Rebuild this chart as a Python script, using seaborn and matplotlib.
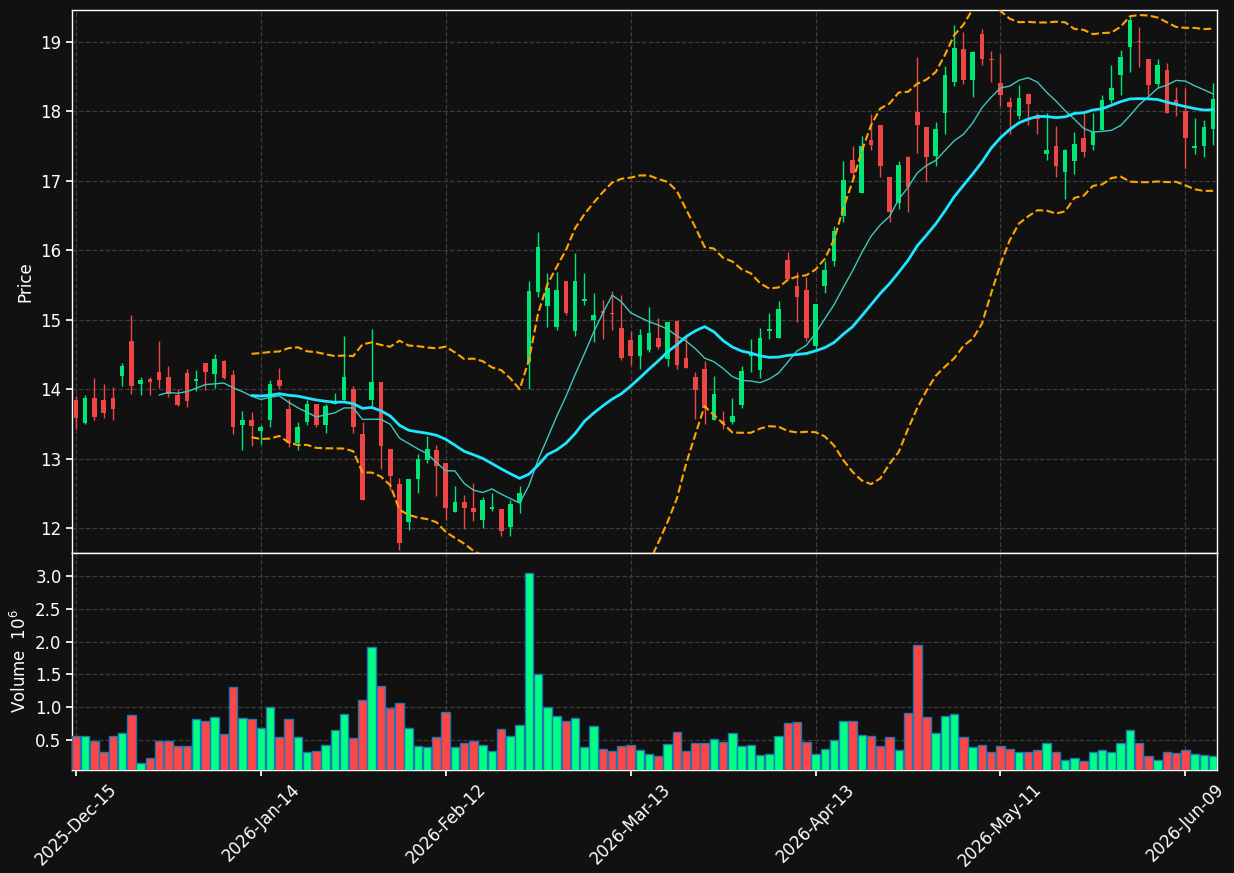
import numpy as np
import pandas as pd
import seaborn as sns
import matplotlib
matplotlib.use('Agg')
import matplotlib.pyplot as plt

# daily OHLC (price) and volume (millions)
opens = [13.84, 13.51, 13.87, 13.84, 13.87, 14.19, 14.70, 14.07, 14.14, 14.24,
         14.17, 13.92, 14.23, 14.12, 14.37, 14.22, 14.41, 14.20, 13.49, 13.55,
         13.40, 13.56, 14.13, 13.71, 13.23, 13.52, 13.78, 13.49, 13.78, 13.85,
         14.00, 13.36, 13.85, 14.10, 13.14, 12.63, 12.08, 12.70, 12.98, 13.12,
         12.93, 12.23, 12.37, 12.29, 12.12, 12.27, 12.27, 12.01, 12.37, 14.39,
         15.40, 15.19, 14.90, 15.56, 14.84, 15.27, 15.00, 15.12, 15.09, 14.88,
         14.71, 14.47, 14.57, 14.73, 14.44, 14.98, 14.45, 14.17, 14.29, 13.55,
         13.54, 13.52, 13.77, 14.48, 14.27, 14.83, 14.73, 15.86, 15.49, 15.43,
         14.62, 15.48, 15.85, 16.50, 17.30, 16.83, 17.59, 17.80, 17.05, 16.68,
         17.34, 17.99, 17.77, 17.36, 17.98, 18.43, 18.90, 18.45, 19.11, 18.75,
         18.41, 18.13, 17.94, 18.25, 17.93, 17.38, 17.50, 17.12, 17.29, 17.62,
         17.52, 17.73, 18.16, 18.52, 18.92, 19.02, 18.75, 18.40, 18.59, 18.17,
         18.01, 17.47, 17.50, 17.75]
highs = [13.90, 13.92, 14.16, 14.08, 14.03, 14.38, 15.07, 14.18, 14.18, 14.70,
         14.34, 14.00, 14.29, 14.28, 14.37, 14.51, 14.42, 14.28, 13.69, 13.67,
         13.48, 14.13, 14.31, 13.86, 13.52, 13.85, 13.78, 13.79, 13.94, 14.77,
         14.04, 13.52, 14.87, 14.10, 13.14, 12.72, 12.71, 13.07, 13.33, 13.20,
         12.93, 12.61, 12.47, 12.65, 12.44, 12.50, 12.27, 12.40, 12.61, 15.56,
         16.27, 15.67, 15.68, 15.56, 15.96, 15.67, 15.39, 15.29, 15.42, 15.36,
         14.84, 14.86, 15.18, 15.02, 14.97, 14.98, 14.76, 14.24, 14.41, 14.19,
         13.69, 13.87, 14.33, 14.72, 14.88, 15.09, 15.27, 15.97, 15.69, 15.62,
         15.23, 15.84, 16.35, 17.29, 17.50, 17.64, 17.96, 17.80, 17.05, 17.29,
         17.36, 18.78, 17.77, 17.84, 18.66, 19.25, 19.14, 18.87, 19.19, 18.87,
         18.83, 18.21, 18.38, 18.27, 17.98, 17.98, 17.79, 17.46, 17.70, 17.98,
         17.97, 18.24, 18.67, 18.88, 19.38, 19.22, 18.75, 18.75, 18.70, 18.35,
         18.34, 17.90, 17.87, 18.41]
lows = [13.42, 13.50, 13.56, 13.59, 13.56, 14.05, 13.93, 13.92, 13.92, 14.02,
        13.89, 13.75, 13.74, 13.98, 13.99, 14.02, 14.14, 13.36, 13.13, 13.18,
        13.21, 13.45, 14.00, 13.16, 13.13, 13.49, 13.45, 13.37, 13.78, 13.85,
        13.37, 12.41, 13.76, 12.85, 12.55, 11.69, 11.97, 12.50, 12.94, 12.46,
        12.12, 12.23, 11.99, 12.10, 12.00, 12.24, 11.89, 11.89, 12.22, 14.00,
        15.33, 14.89, 14.85, 15.07, 14.76, 15.21, 14.68, 14.72, 14.85, 14.42,
        14.35, 14.29, 14.54, 14.58, 14.33, 14.29, 14.31, 13.57, 13.50, 13.55,
        13.42, 13.50, 13.73, 14.25, 14.16, 14.72, 14.73, 15.58, 14.97, 14.69,
        14.58, 15.39, 15.77, 16.41, 17.06, 16.83, 17.45, 17.05, 16.41, 16.59,
        16.55, 17.40, 16.99, 17.21, 17.67, 18.36, 18.40, 18.21, 18.67, 18.43,
        18.08, 17.67, 17.89, 17.81, 17.68, 17.30, 17.06, 16.74, 17.10, 17.34,
        17.45, 17.73, 18.12, 18.24, 18.57, 18.64, 18.23, 18.35, 17.98, 17.93,
        17.18, 17.38, 17.35, 17.52]
closes = [13.58, 13.87, 13.60, 13.66, 13.71, 14.34, 14.04, 14.13, 14.10, 14.13,
          13.93, 13.77, 13.83, 14.14, 14.25, 14.44, 14.16, 13.45, 13.55, 13.47,
          13.45, 14.08, 14.05, 13.22, 13.45, 13.78, 13.49, 13.76, 13.83, 14.18,
          13.46, 12.41, 14.10, 13.18, 12.75, 11.78, 12.71, 12.99, 13.14, 12.90,
          12.29, 12.38, 12.29, 12.23, 12.40, 12.30, 11.96, 12.34, 12.50, 15.41,
          16.05, 15.45, 15.43, 15.10, 15.56, 15.30, 15.07, 15.09, 15.08, 14.45,
          14.47, 14.78, 14.81, 14.61, 14.97, 14.35, 14.31, 13.99, 13.73, 13.93,
          13.50, 13.61, 14.26, 14.52, 14.74, 14.87, 15.16, 15.58, 15.33, 14.74,
          15.23, 15.71, 16.28, 17.01, 17.11, 17.50, 17.52, 17.22, 16.55, 17.23,
          16.91, 17.81, 17.35, 17.74, 18.53, 18.91, 18.45, 18.86, 18.75, 18.74,
          18.24, 18.07, 18.19, 18.10, 17.89, 17.45, 17.21, 17.45, 17.53, 17.42,
          17.71, 18.17, 18.34, 18.79, 19.32, 19.00, 18.38, 18.67, 17.98, 18.10,
          17.61, 17.50, 17.77, 18.18]
volumes = [0.561, 0.561, 0.485, 0.317, 0.561, 0.607, 0.881, 0.150, 0.226, 0.485,
           0.485, 0.409, 0.409, 0.820, 0.790, 0.851, 0.591, 1.308, 0.835, 0.820,
           0.683, 1.003, 0.546, 0.820, 0.546, 0.317, 0.332, 0.424, 0.652, 0.896,
           0.530, 1.110, 1.918, 1.323, 0.988, 1.064, 0.683, 0.409, 0.393, 0.546,
           0.927, 0.393, 0.454, 0.485, 0.424, 0.332, 0.668, 0.561, 0.729, 3.046,
           1.506, 1.003, 0.866, 0.790, 0.835, 0.393, 0.713, 0.363, 0.332, 0.409,
           0.424, 0.348, 0.287, 0.256, 0.439, 0.622, 0.332, 0.454, 0.454, 0.515,
           0.470, 0.607, 0.409, 0.424, 0.271, 0.287, 0.561, 0.759, 0.774, 0.470,
           0.287, 0.363, 0.500, 0.790, 0.790, 0.576, 0.561, 0.409, 0.546, 0.348,
           0.912, 1.948, 0.851, 0.607, 0.866, 0.896, 0.546, 0.393, 0.424, 0.317,
           0.409, 0.363, 0.317, 0.317, 0.348, 0.454, 0.317, 0.195, 0.226, 0.180,
           0.317, 0.348, 0.317, 0.454, 0.652, 0.454, 0.256, 0.195, 0.317, 0.302,
           0.348, 0.287, 0.271, 0.256]
tick_labels = ['2025-Dec-15', '2026-Jan-14', '2026-Feb-12', '2026-Mar-13',
               '2026-Apr-13', '2026-May-11', '2026-Jun-09']

BG = '#111111'
UP, DOWN = '#00e676', '#f04545'
VUP, VDOWN = '#00ff85', '#ff4646'

df = pd.DataFrame({'open': opens, 'high': highs, 'low': lows,
                   'close': closes, 'volume': volumes})
df['i'] = np.arange(len(df))
df['ma10'] = df['close'].rolling(10).mean()
df['ma20'] = df['close'].rolling(20).mean()
sd = df['close'].rolling(20).std()
df['bb_up'] = df['ma20'] + 2 * sd
df['bb_lo'] = df['ma20'] - 2 * sd
up = df['close'] >= df['open']

sns.set_theme(style='dark', rc={
    'figure.facecolor': BG, 'axes.facecolor': BG, 'axes.edgecolor': 'white',
    'axes.labelcolor': 'white', 'xtick.color': 'white', 'ytick.color': 'white',
    'text.color': 'white', 'axes.grid': True, 'grid.color': '#3c3c3c',
    'grid.linestyle': '--', 'grid.linewidth': 0.9,
    'xtick.bottom': True, 'ytick.left': True,
})
plt.rcParams['font.family'] = ['DejaVu Sans']

fig = plt.figure(figsize=(12.34, 8.73), dpi=100)
W, H = 1234, 873
ax = fig.add_axes([72 / W, 1 - 553 / H, 1145 / W, 543 / H])
axv = fig.add_axes([72 / W, 1 - 770 / H, 1145 / W, 217 / H], sharex=ax)

# candles
cols = np.where(up, UP, DOWN)
ax.vlines(df['i'], df['low'], df['high'], colors=cols, linewidth=1, zorder=3)
body = (df['close'] - df['open']).abs().clip(lower=0.012)
ax.bar(df['i'], body, bottom=df[['open', 'close']].min(axis=1), width=0.5,
       color=cols, linewidth=0, zorder=4)

# moving averages and bollinger bands
sns.lineplot(x='i', y='ma10', data=df, ax=ax, color='#3cc8c0', linewidth=1, zorder=5)
sns.lineplot(x='i', y='ma20', data=df, ax=ax, color='#1ee6ff', linewidth=2, zorder=5)
sns.lineplot(x='i', y='bb_up', data=df, ax=ax, color='orange', linewidth=1.5,
             linestyle='--', zorder=5)
sns.lineplot(x='i', y='bb_lo', data=df, ax=ax, color='orange', linewidth=1.5,
             linestyle='--', zorder=5)

ax.set_ylim(11.64, 19.46)
ax.set_xlim(-0.42, 123.42)
ax.set_yticks(range(12, 20))
ax.set_ylabel('Price', fontsize=12)
ax.set_xlabel('')
ax.tick_params(axis='x', length=0, labelbottom=False)
ax.tick_params(axis='y', labelsize=12, length=4)

# volume
axv.bar(df['i'], df['volume'], width=0.92, color=np.where(up, VUP, VDOWN),
        edgecolor='#1f77b4', linewidth=1, zorder=3)
axv.set_ylim(0.3 * min(volumes), 1.1 * max(volumes))
axv.set_yticks([0.5, 1.0, 1.5, 2.0, 2.5, 3.0])
axv.set_ylabel('Volume  $10^{6}$', fontsize=12)
axv.set_xticks(range(0, len(df), 20))
axv.set_xticklabels(tick_labels, rotation=45, fontsize=12)
axv.tick_params(axis='both', labelsize=12, length=4)

for a in (ax, axv):
    for s in a.spines.values():
        s.set_color('white')
        s.set_linewidth(1)

fig.savefig('out.png', dpi=100, facecolor=BG)
